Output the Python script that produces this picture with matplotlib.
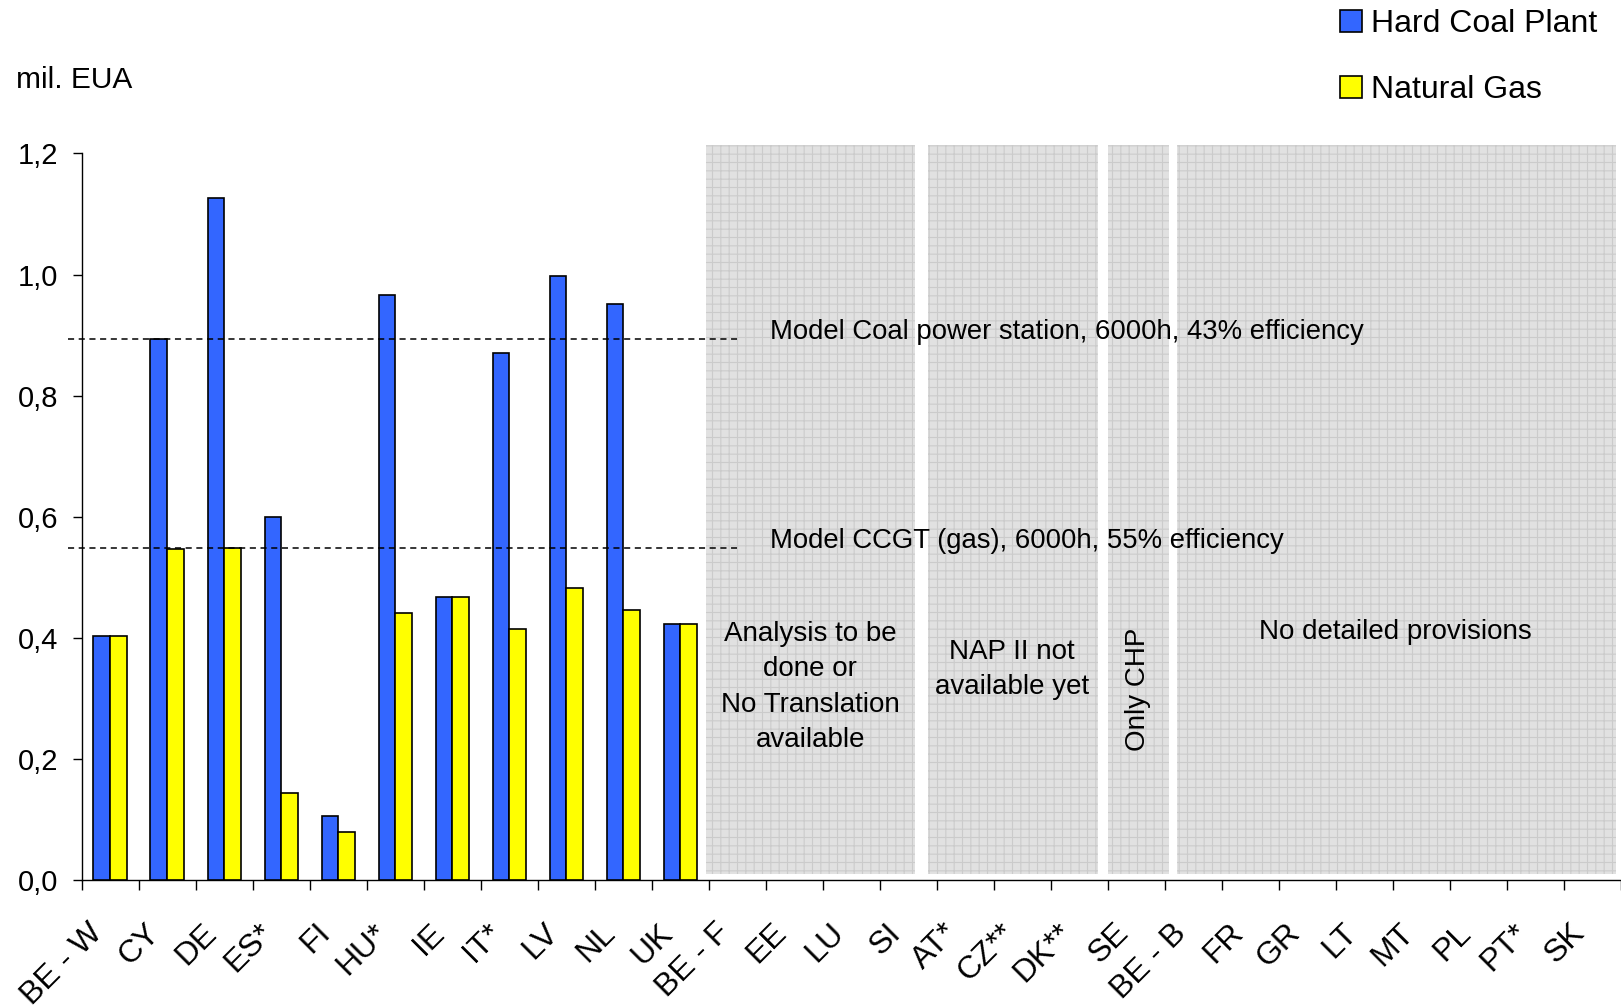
import matplotlib
matplotlib.use('Agg')
import matplotlib.pyplot as plt
import matplotlib.transforms as mtransforms
import numpy as np

plt.rcParams['font.family'] = ['Liberation Sans', 'DejaVu Sans']
plt.rcParams['hatch.linewidth'] = 0.8
plt.rcParams['hatch.color'] = '#cbcbcb'

countries = ['BE - W', 'CY', 'DE', 'ES*', 'FI', 'HU*', 'IE', 'IT*', 'LV', 'NL', 'UK',
             'BE - F', 'EE', 'LU', 'SI', 'AT*', 'CZ**', 'DK**', 'SE',
             'BE - B', 'FR', 'GR', 'LT', 'MT', 'PL', 'PT*', 'SK']
hard_coal = [0.403, 0.894, 1.126, 0.600, 0.105, 0.966, 0.467, 0.870, 0.997, 0.952, 0.423]
natural_gas = [0.403, 0.546, 0.548, 0.144, 0.079, 0.441, 0.467, 0.414, 0.482, 0.446, 0.423]

coal_ref = 0.894
gas_ref = 0.548
coal_ref_label = 'Model Coal power station, 6000h, 43% efficiency'
gas_ref_label = 'Model CCGT (gas), 6000h, 55% efficiency'

# grey blocks for countries without bar data: (x start, x end, note, rotation)
regions = [(10.45, 14.12, 'Analysis to be\ndone or\nNo Translation\navailable', 0),
           (14.34, 17.33, 'NAP II not\navailable yet', 0),
           (17.50, 18.58, 'Only CHP', 90),
           (18.72, 26.41, 'No detailed provisions', 0)]
note_pos = [(12.28, 0.319), (15.82, 0.348), (18.03, 0.315), (22.55, 0.409)]

W, H = 1621, 1008
fig = plt.figure(figsize=(W / 100, H / 100), dpi=100)
ax_l, ax_b, ax_t = 81.5, 880, 153.5
ax = fig.add_axes([ax_l / W, (H - ax_b) / H, (W - ax_l) / W, (ax_b - ax_t) / H])

n = len(hard_coal)
x = np.arange(n)
bw = 0.29
b1 = ax.bar(x - bw / 2, hard_coal, bw, color='#3366ff', edgecolor='black', linewidth=1.2,
            label='Hard Coal Plant', zorder=3)
b2 = ax.bar(x + bw / 2, natural_gas, bw, color='#ffff00', edgecolor='black', linewidth=1.2,
            label='Natural Gas', zorder=3)

for (x0, x1, note, rot), (tx, ty) in zip(regions, note_pos):
    ax.add_patch(plt.Rectangle((x0, 0.01), x1 - x0, 1.2045, facecolor='#e1e1e1',
                               edgecolor='#cbcbcb', linewidth=0, hatch='++',
                               clip_on=False, zorder=1))
    ax.text(tx, ty, note, rotation=rot, ha='center', va='center', fontsize=20,
            linespacing=1.47, zorder=4)

# reference lines
for val, lab, ty in [(coal_ref, coal_ref_label, 0.905), (gas_ref, gas_ref_label, 0.560)]:
    ax.plot([-0.73, 11.0], [val, val], color='black', linestyle=(0, (4, 3)), linewidth=1.1,
            clip_on=False, zorder=4)
    ax.text(11.58, ty, lab, ha='left', va='center', fontsize=19.8, zorder=4)

ax.set_ylim(0, 1.2)
ax.set_xlim(-0.5, -0.5 + (W - ax_l) / 57.1)
yt = np.arange(0, 1.21, 0.2)
ax.set_yticks(yt, [f'{v:.1f}'.replace('.', ',') for v in yt])
ax.tick_params(axis='y', direction='out', length=6.5, width=1, labelsize=21, pad=10)

ax.set_xticks(np.arange(len(countries)), countries, rotation=45, ha='right', va='center',
              rotation_mode='anchor')
ax.set_xticks(np.arange(len(countries) + 1) - 0.5, minor=True)
ax.tick_params(axis='x', which='major', length=0, labelsize=23, pad=35)
ax.tick_params(axis='x', which='minor', direction='out', length=7.5, width=1)
shift = mtransforms.ScaledTranslation(-12 / 100, 0, fig.dpi_scale_trans)
for lbl in ax.get_xticklabels():
    lbl.set_transform(lbl.get_transform() + shift)

for s in ['top', 'right']:
    ax.spines[s].set_visible(False)
ax.spines['left'].set_linewidth(1)
ax.spines['bottom'].set_linewidth(1)

fig.text(15.5 / W, 1 - 79.6 / H, 'mil. EUA', ha='left', va='center', fontsize=21.5)

fig.legend(handles=[b1, b2], loc='upper left', bbox_to_anchor=(1340 / W, 1 - 9 / H),
           frameon=False, borderpad=0, borderaxespad=0, fontsize=23,
           handlelength=0.68, handleheight=0.68, handletextpad=0.3, labelspacing=1.12)

plt.savefig('out.png', dpi=100)
